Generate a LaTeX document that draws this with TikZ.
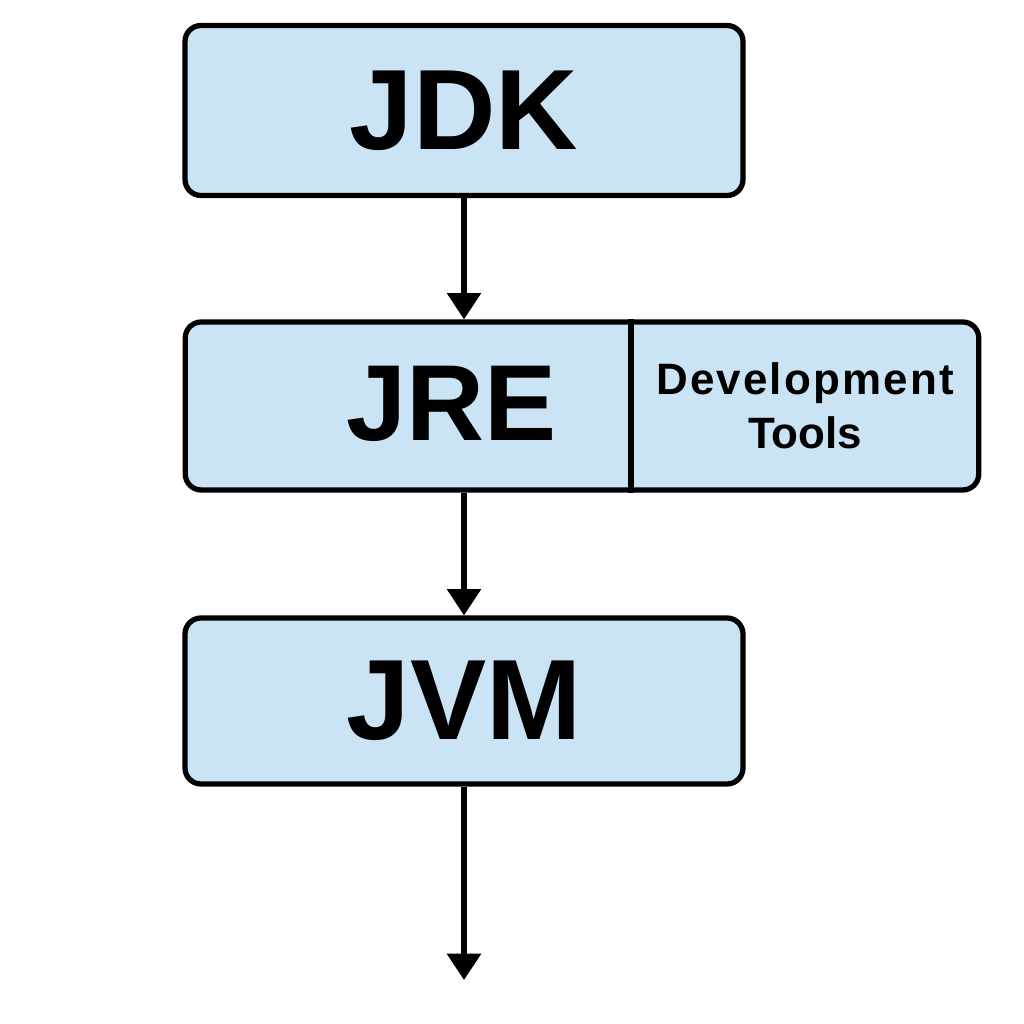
\documentclass[tikz,border=0pt]{standalone}
\usepackage{fontspec}
\setmainfont{Liberation Sans}
\usepackage{tikz}
\usetikzlibrary{arrows.meta}

\definecolor{jblue}{RGB}{203,228,245}

\tikzset{
  layer/.style={draw, fill=jblue, line width=3pt, rounded corners=0.32cm,
    font=\bfseries, align=center},
  flow/.style={line width=2.9pt, -{Triangle[width=19pt,length=15pt]}}
}

\begin{document}
\begin{tikzpicture}
        \useasboundingbox[fill=white] (0,0) rectangle (20.48,20.48);
        % Boxes
        \node[layer, minimum width=11.16cm, minimum height=3.4cm] (jdk) at (9.28,18.27)
        {\fontsize{65}{70}\selectfont JDK};
        \node[layer, minimum width=15.87cm, minimum height=3.36cm] (jre) at (11.64,12.36) {};
        \node[layer, minimum width=11.16cm, minimum height=3.32cm] (jvm) at (9.28,6.46)
        {\fontsize{65}{70}\selectfont JVM};
        %JRE parts
        \coordinate (split) at (12.62,12.36);
        \draw[line width=3pt] (split |- jre.north) -- (split |- jre.south);
        \node[font=\bfseries] (jrelabel) at (9.04,12.40) {\fontsize{61.5}{66}\selectfont JRE};
        \node[font=\bfseries\fontsize{25}{31}\selectfont, align=center] (devtools) at (16.10,12.36)
        {{\addfontfeature{LetterSpace=5}Development}\\Tools};
        % Arrows
        \coordinate (out) at (9.28,0.88);
        \draw[flow] (jdk.south) -- (jdk.south |- jre.north);
        \draw[flow] (jdk.south |- jre.south) -- (jvm.north);
        \draw[flow] (jvm.south) -- (out);
      \end{tikzpicture}
\end{document}
